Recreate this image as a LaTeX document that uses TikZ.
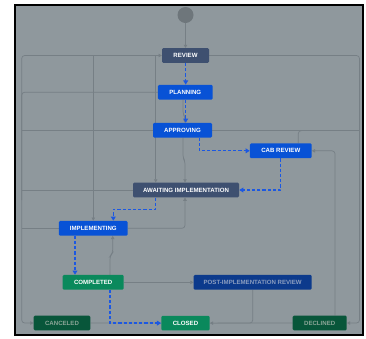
\documentclass[tikz,border=0pt]{standalone}
\usepackage{fontspec}
\setmainfont{Liberation Sans}
\usetikzlibrary{arrows.meta}
\definecolor{bgc}{RGB}{143,152,157}
\definecolor{lnc}{RGB}{118,127,133}
\definecolor{slate}{RGB}{62,80,112}
\definecolor{jblue}{RGB}{8,82,214}
\definecolor{dblue}{RGB}{12,58,140}
\definecolor{dbluetxt}{RGB}{140,158,192}
\definecolor{jgreen}{RGB}{10,137,92}
\definecolor{dgreen}{RGB}{8,86,58}
\definecolor{dgreentxt}{RGB}{140,166,152}
\definecolor{dash}{RGB}{28,88,226}
\definecolor{startc}{RGB}{110,118,123}
\pgfdeclarelayer{bglayer}
\pgfdeclarelayer{lnlayer}
\pgfsetlayers{bglayer,lnlayer,main}
\tikzset{
  st/.style={draw=none, rounded corners=1.2pt, inner sep=0pt, minimum height=14.7pt,
    text=white, font=\fontsize{6.1}{6.5}\selectfont\bfseries},
  gline/.style={draw=lnc, line width=0.7pt, rounded corners=3pt},
  garrow/.style={-{Triangle[width=3.4pt,length=3.2pt]}},
  bline/.style={draw=dash, line width=1.3pt, dash pattern=on 3.2pt off 2pt,
    -{Triangle[width=4.8pt,length=4.2pt]}}
}
\begin{document}
\begin{tikzpicture}[x=1pt,y=-1pt]
\useasboundingbox (0,0) rectangle (366,338);
\begin{pgfonlayer}{bglayer}
\fill[white] (0,0) rectangle (366,338);
\fill[bgc] (15,4.5) rectangle (363.3,335.2);
\draw[black, line width=2pt] (15,4.5) rectangle (363.3,335.2);
\end{pgfonlayer}

\node[circle, fill=startc, minimum size=16pt, inner sep=0pt] (start) at (185.5,15) {};
\node[st, fill=slate, minimum width=47pt] (review) at (185.5,55.5) {REVIEW};
\node[st, fill=jblue, minimum width=54.7pt] (plan) at (185.3,92.2) {PLANNING};
\node[st, fill=jblue, minimum width=59pt] (appr) at (182.5,130.3) {APPROVING};
\node[st, fill=jblue, minimum width=61.7pt] (cab) at (280.8,150.8) {CAB REVIEW};
\node[st, fill=slate, minimum width=106pt] (await) at (186,190) {AWAITING IMPLEMENTATION};
\node[st, fill=jblue, minimum width=68.7pt] (impl) at (93.3,228.3) {IMPLEMENTING};
\node[st, fill=jgreen, minimum width=61pt] (comp) at (93.2,282.3) {COMPLETED};
\node[st, fill=dblue, text=dbluetxt, minimum width=118pt] (post) at (252.7,282.3) {POST-IMPLEMENTATION REVIEW};
\node[st, fill=dgreen, text=dgreentxt, minimum width=56.6pt] (cancel) at (62,323) {CANCELED};
\node[st, fill=jgreen, minimum width=48.4pt] (closed) at (185.5,323.1) {CLOSED};
\node[st, fill=dgreen, text=dgreentxt, minimum width=54pt] (decl) at (319.7,323) {DECLINED};

\begin{pgfonlayer}{lnlayer}
% gray transitions
\draw[gline, garrow] (start) -- (review.north);
\draw[gline, garrow] (21.7,200) |- (review.west);
\draw[gline, garrow] (plan.west) -- (21.7,92.2) -- (21.7,323) -- (cancel.west);
\draw[gline] (appr.west) -- (21.7,130.3);
\draw[gline] (await.west) -- (21.7,190);
\draw[gline] (impl.west) -- (21.7,228.3);
\draw[gline, garrow] (impl.north |- review.west) -- (impl.north);
\draw[gline, garrow] (155.7,55.5) -- ([xshift=-30.3pt]await.north);
\draw[gline, garrow] (review.east) -- (359.5,55.5) -- (359.5,323) -- (decl.east);
\draw[gline] (appr.east) -- (359.5,130.3);
\draw[gline] ([xshift=17.5pt]cab.north) -- (298.3,130.6) -- (359.5,130.6);
\draw[gline, garrow] ([xshift=15.3pt]decl.north) |- (cab.east);
\draw[gline, garrow] ([xshift=0.5pt]appr.south) -- (183,158) -- (185,161) -- ([xshift=-1pt]await.north);
\draw[gline, garrow] (impl.east) -| ([xshift=-1pt]await.south);
\draw[gline, garrow] ([xshift=16.8pt]comp.north) -- (110,256) -- (112.7,253) -- ([xshift=19.4pt]impl.south);
\draw[gline, garrow] ([xshift=-2.3pt]plan.south) -- (183,114) -- (185,117) -- ([xshift=2.5pt]appr.north);
\draw[gline, garrow] (comp.east) -- (post.west);
\draw[gline, garrow] (post.south) |- (closed.east);
\draw[gline] (decl.west) -- (closed.east);
\draw[gline] (cancel.east) -- (closed.west);
% blue dashed main path
\draw[bline] ([xshift=0.2pt]review.south) -- ([xshift=0.4pt]plan.north);
\draw[bline] ([xshift=0.4pt]plan.south) -- ([xshift=3.2pt]appr.north);
\draw[bline] ([xshift=16.8pt]appr.south) |- (cab.west);
\draw[bline] (cab.south) |- (await.east);
\draw[bline] ([xshift=-30.3pt]await.south) -- ++(0,11.7) -| ([xshift=20pt]impl.north);
\draw[bline] ([xshift=-18.3pt]impl.south) -- ([xshift=-18.2pt]comp.north);
\draw[bline] ([xshift=16.8pt]comp.south) |- (closed.west);
\end{pgfonlayer}
\end{tikzpicture}
\end{document}
